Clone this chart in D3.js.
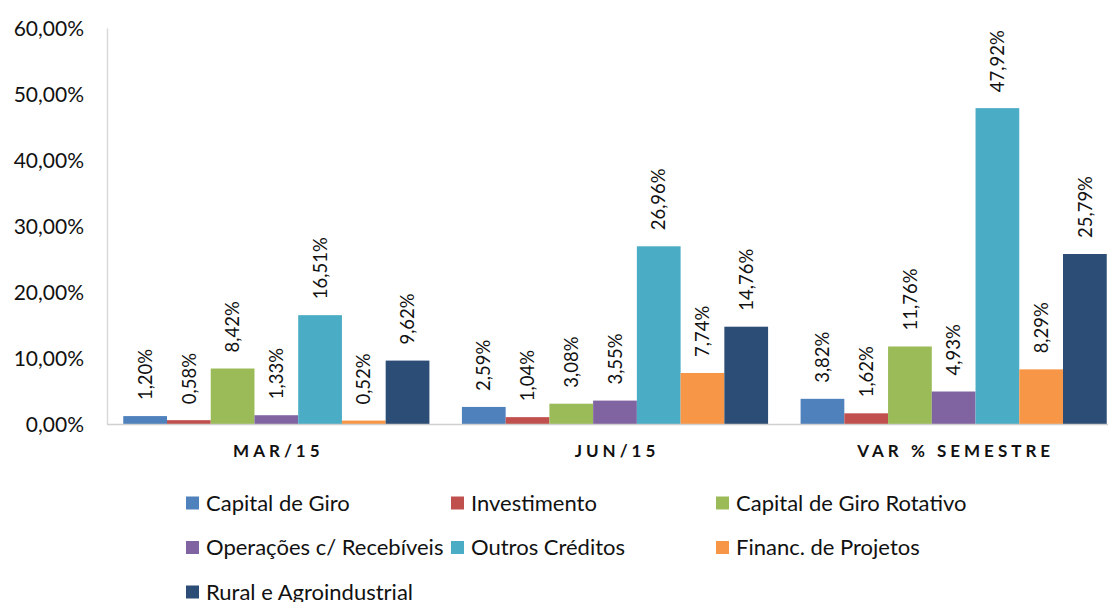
<!DOCTYPE html>
<html>
<head>
<meta charset="utf-8">
<script src="https://cdn.jsdelivr.net/npm/d3@7"></script>
<style>
  body { margin: 0; background: #fff; }
  svg { display: block; font-family: Lato, "Open Sans", sans-serif; }
  .tick-label { font-size: 21px; fill: #111; }
  .value-label { font-size: 18.5px; fill: #111; }
  .cat-label { font-size: 17px; font-weight: bold; letter-spacing: 4px; fill: #111; }
  .legend-label { font-size: 22px; fill: #111; }
</style>
</head>
<body>
<div id="chart"></div>
<script>
(function() {

const w = 1108;
const h = 602;

// data
const categories = ["MAR/15", "JUN/15", "VAR % SEMESTRE"];
const series = [
    "Capital de Giro",
    "Investimento",
    "Capital de Giro Rotativo",
    "Operações c/ Recebíveis",
    "Outros Créditos",
    "Financ. de Projetos",
    "Rural e Agroindustrial"
];
const colours = ["#4F81BD", "#C0504D", "#9BBB59", "#8064A2", "#4BACC6", "#F79646", "#2C4D75"];

const capitalGiro = [1.20, 2.59, 3.82];
const investimento = [0.58, 1.04, 1.62];
const capitalGiroRotativo = [8.42, 3.08, 11.76];
const operacoesRecebiveis = [1.33, 3.55, 4.93];
const outrosCreditos = [16.51, 26.96, 47.92];
const financProjetos = [0.52, 7.74, 8.29];
const ruralAgro = [9.62, 14.76, 25.79];

const yTicks = [0, 10, 20, 30, 40, 50, 60];

const values = [capitalGiro, investimento, capitalGiroRotativo, operacoesRecebiveis,
    outrosCreditos, financProjetos, ruralAgro];

// one row per bar
const dataset = [];
categories.forEach(function(c, ci) {
    series.forEach(function(s, si) {
        dataset.push({ category: c, series: s, value: values[si][ci] });
    });
});

const ptBR = d3.formatLocale({ decimal: ",", thousands: ".", grouping: [3], currency: ["R$", ""] });
const fmt = ptBR.format(".2f");

const xScale = d3.scaleBand()
    .domain(categories)
    .range([107, 1123])
    .paddingInner(0.096)
    .paddingOuter(0.048);

const x1 = d3.scaleBand()
    .domain(series)
    .range([0, xScale.bandwidth()]);

const yScale = d3.scaleLinear()
    .domain([0, 60])
    .range([424, 28.5]);

const colourFunc = d3.scaleOrdinal()
    .domain(series)
    .range(colours);

const svg = d3.select("#chart")
    .append("svg")
    .attr("width", w)
    .attr("height", h);

// y axis labels
svg.selectAll("text.tick-label")
    .data(yTicks)
    .enter()
    .append("text")
    .attr("class", "tick-label")
    .attr("x", 84)
    .attr("y", function(d) { return yScale(d); })
    .attr("dy", "0.36em")
    .attr("text-anchor", "end")
    .text(function(d) { return fmt(d) + "%"; });

// axis lines
svg.append("line")
    .attr("x1", 107.5)
    .attr("x2", 107.5)
    .attr("y1", yScale(60))
    .attr("y2", yScale(0))
    .attr("stroke", "#d9d9d9")
    .attr("stroke-width", 1.5);

// bars
svg.selectAll("rect.bar")
    .data(dataset)
    .enter()
    .append("rect")
    .attr("class", "bar")
    .attr("x", function(d) { return xScale(d.category) + x1(d.series); })
    .attr("y", function(d) { return yScale(d.value); })
    .attr("width", x1.bandwidth())
    .attr("height", function(d) { return yScale(0) - yScale(d.value); })
    .attr("fill", function(d) { return colourFunc(d.series); });

svg.append("line")
    .attr("x1", 107)
    .attr("x2", w)
    .attr("y1", yScale(0) + 0.5)
    .attr("y2", yScale(0) + 0.5)
    .attr("stroke", "#d0d0d0")
    .attr("stroke-width", 1.5);

// value labels, rotated
svg.selectAll("text.value-label")
    .data(dataset)
    .enter()
    .append("text")
    .attr("class", "value-label")
    .attr("transform", function(d) {
        const cx = xScale(d.category) + x1(d.series) + x1.bandwidth() / 2;
        return "translate(" + cx + "," + (yScale(d.value) - 16) + ") rotate(-90)";
    })
    .attr("dy", "0.36em")
    .attr("text-anchor", "start")
    .text(function(d) { return fmt(d.value) + "%"; });

// category labels
svg.selectAll("text.cat-label")
    .data(categories)
    .enter()
    .append("text")
    .attr("class", "cat-label")
    .attr("x", function(d) { return xScale(d) + xScale.bandwidth() / 2 + 2; })
    .attr("y", 451)
    .attr("dy", "0.36em")
    .attr("text-anchor", "middle")
    .text(function(d) { return d; });

// legend, 3 columns
const legend = svg.selectAll("g.legend")
    .data(series)
    .enter()
    .append("g")
    .attr("class", "legend")
    .attr("transform", function(d, i) {
        return "translate(" + (186 + (i % 3) * 265) + "," + (503 + Math.floor(i / 3) * 44.5) + ")";
    });

legend.append("rect")
    .attr("x", 0)
    .attr("y", -6.5)
    .attr("width", 13)
    .attr("height", 13)
    .attr("fill", function(d) { return colourFunc(d); });

legend.append("text")
    .attr("class", "legend-label")
    .attr("x", 20)
    .attr("y", 0)
    .attr("dy", "0.36em")
    .text(function(d) { return d; });

})();
</script>
</body>
</html>
